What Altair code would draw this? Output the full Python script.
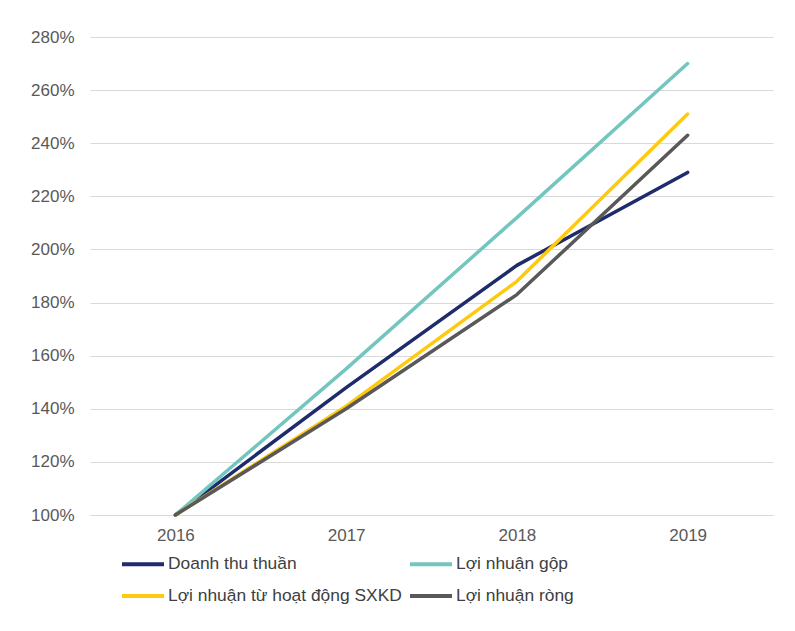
import altair as alt
import pandas as pd

years = ["2016", "2017", "2018", "2019"]
series_names = ["Doanh thu thuần", "Lợi nhuận gộp", "Lợi nhuận từ hoạt động SXKD", "Lợi nhuận ròng"]
doanh_thu = [1.00, 1.48, 1.94, 2.29]
ln_gop = [1.00, 1.55, 2.12, 2.70]
ln_sxkd = [1.00, 1.41, 1.88, 2.51]
ln_rong = [1.00, 1.40, 1.83, 2.43]
colors = ["#1f2c6c", "#73c6bf", "#ffc90e", "#595959"]
y_ticks = [1.0, 1.2, 1.4, 1.6, 1.8, 2.0, 2.2, 2.4, 2.6, 2.8]

rows = []
for name, vals in zip(series_names, [doanh_thu, ln_gop, ln_sxkd, ln_rong]):
    for yr, v in zip(years, vals):
        rows.append({"year": yr, "value": v, "series": name})
df = pd.DataFrame(rows)

# legend is filled column by column: order so that rows read as in the reference
legend_order = [series_names[0], series_names[2], series_names[1], series_names[3]]
legend_colors = [colors[0], colors[2], colors[1], colors[3]]

font = "Liberation Sans"

chart = alt.Chart(df).mark_line(strokeWidth=3.5, strokeCap="round", strokeJoin="round").encode(
    x=alt.X("year:O", sort=years, title=None,
            scale=alt.Scale(type="point", padding=0.5),
            axis=alt.Axis(labelAngle=0, domain=False, ticks=False, grid=False,
                          labelFont=font, labelFontSize=17, labelColor="#595959",
                          labelPadding=12)),
    y=alt.Y("value:Q", title=None,
            scale=alt.Scale(domain=[1.0, 2.8], nice=False),
            axis=alt.Axis(values=y_ticks, format=".0%", domain=False, ticks=False,
                          gridColor="#d9d9d9", gridWidth=1,
                          labelFont=font, labelFontSize=17, labelColor="#595959",
                          labelPadding=16)),
    color=alt.Color("series:N",
                    scale=alt.Scale(domain=legend_order, range=legend_colors),
                    legend=alt.Legend(title=None, orient="none", legendX=30, legendY=504,
                                      columns=2, columnPadding=0, rowPadding=0,
                                      symbolType="stroke", symbolSize=1764,
                                      symbolStrokeWidth=4, labelOffset=2, labelLimit=400,
                                      labelFont=font, labelFontSize=17.4,
                                      labelColor="#404040", padding=0)),
).properties(
    width=683, height=478,
    background="white",
    autosize=alt.AutoSizeParams(type="none"),
    padding={"left": 82, "top": 29, "right": 14, "bottom": 108},
).configure_view(stroke=None)

chart.save("out.html", embed_options={"renderer": "svg", "actions": False})
